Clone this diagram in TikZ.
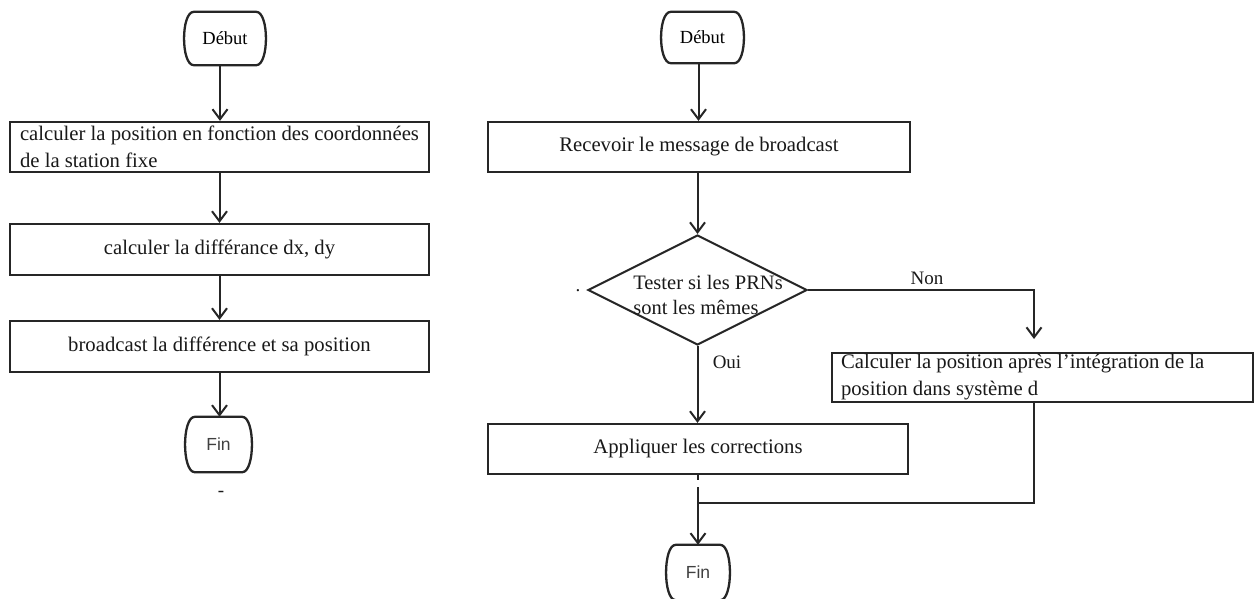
\documentclass[tikz,border=0pt]{standalone}
\usepackage{fontspec}
\setmainfont{Liberation Serif}
\newfontfamily\arialf{Liberation Sans}
\usetikzlibrary{arrows.meta,shapes.geometric}
\definecolor{ink}{HTML}{262626}
\tikzset{
  box/.style={draw=ink,line width=2.3pt,rectangle,inner ysep=0pt,inner xsep=4pt,
    font=\fontsize{20.7}{27}\selectfont,text=black!90,align=center},
  term/.style={inner sep=0pt,draw=none},
  termline/.style={draw=ink,line width=2.3pt},
  conn/.style={draw=ink,line width=2pt},
  arr/.style={conn,-{Straight Barb[length=10pt,width=15pt,line width=2pt]}},
  lbl/.style={font=\fontsize{19}{21}\selectfont,text=black!90,inner sep=0pt},
}
\newcommand{\termshape}[1]{%
  \draw[termline] ([xshift=9pt]#1.north west) -- ([xshift=-9pt]#1.north east)
    .. controls ([xshift=4pt]#1.north east) and ([xshift=4pt]#1.south east) .. ([xshift=-9pt]#1.south east)
    -- ([xshift=9pt]#1.south west)
    .. controls ([xshift=-4pt]#1.south west) and ([xshift=-4pt]#1.north west) .. ([xshift=9pt]#1.north west);}
\begin{document}
\begin{tikzpicture}[x=1pt,y=-1pt]
\useasboundingbox (0,0) rectangle (1260,598);
\clip (0,0) rectangle (1260,598);
\fill[white] (0,0) rectangle (1260,598);

% ---------- left flowchart ----------
\node[term,minimum width=80pt,minimum height=53pt] (d1) at (225,38.5)
  {\fontsize{18.5}{21}\selectfont Début};
\node[box,minimum width=419pt,minimum height=50pt,align=left] (b1) at (219.5,147)
  {calculer la position en fonction des coordonnées\\de la station fixe};
\node[box,minimum width=419pt,minimum height=51pt] (b2) at (219.5,249.5)
  {calculer la différance dx, dy};
\node[box,minimum width=419pt,minimum height=51pt] (b3) at (219.5,346.5)
  {broadcast la différence et sa position};
\node[term,minimum width=65pt,minimum height=55pt] (f1) at (218.5,444.5)
  {\arialf\fontsize{17.5}{20}\selectfont\color{black!75}Fin};
\node[lbl] (m1) at (221,494) {-};

\termshape{d1}
\termshape{f1}

\draw[arr] ([xshift=-5pt]d1.south) -- ([xshift=-5pt]d1.south |- b1.north);
\draw[arr] (b1.south) -- (b2.north);
\draw[arr] (b2.south) -- (b3.north);
\draw[arr] (b3.south) -- (b3.south |- f1.north);

% ---------- right flowchart ----------
\node[term,minimum width=81pt,minimum height=51pt] (d2) at (702.5,37.5)
  {\fontsize{18.5}{21}\selectfont Début};
\node[box,minimum width=422pt,minimum height=50pt] (r1) at (699,147)
  {Recevoir le message de broadcast};
\node[diamond,draw=ink,line width=2pt,inner sep=0pt,minimum width=219pt,minimum height=110pt] (dia) at (697.5,290) {};
\node[font=\fontsize{20.5}{25}\selectfont,align=left,inner sep=0pt,text=black!90] (diat) at (708,295)
  {Tester si les PRNs\\sont les mêmes};
\node[lbl] (m2) at (578,291) {.};
\node[box,minimum width=421pt,minimum height=49pt,text width=403pt,inner xsep=9pt,align=flush left] (calc) at (1042.5,377.5)
  {Calculer la position après l'intégration de la\\position dans système d};
\node[box,minimum width=420pt,minimum height=50pt] (app) at (698,449)
  {Appliquer les corrections};
\node[term,minimum width=62pt,minimum height=55pt] (f2) at (698,572.5)
  {\arialf\fontsize{17.5}{20}\selectfont\color{black!75}Fin};
\termshape{d2}
\termshape{f2}

\node[lbl] (non) at (927,278) {Non};
\node[lbl] (oui) at (727,362) {Oui};

\coordinate (nonend) at (1034,339);
\coordinate (gapa) at (698,480);
\coordinate (gapb) at (698,487);
\coordinate (junc) at (698,503);

\draw[arr] ([xshift=-4pt]d2.south) -- ([xshift=-4pt]d2.south |- r1.north);
\draw[arr] (r1.south -| dia.north) -- (dia.north);
\draw[arr] (dia.east) -| (nonend);
\draw[arr] (dia.south) -- (dia.south |- app.north);
\draw[conn] (app.south) -- (gapa);
\draw[arr] (gapb) -- (f2.north);
\draw[conn] (calc.south -| nonend) -- (nonend |- junc) -- (junc);
\end{tikzpicture}
\end{document}
